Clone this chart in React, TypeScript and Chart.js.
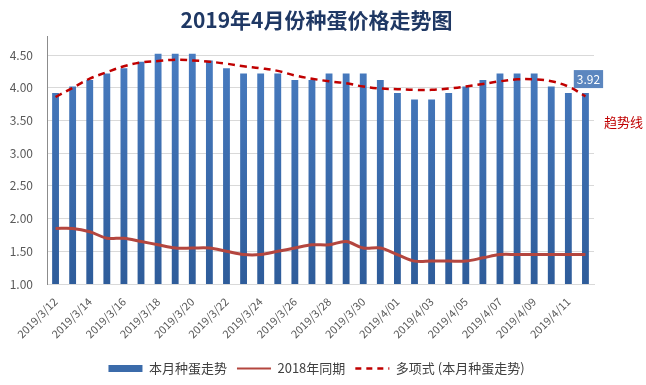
import React, { useEffect, useRef } from "react";
import { Chart, registerables } from "chart.js";

Chart.register(...registerables);

const categories = [
  "2019/3/12", "2019/3/13", "2019/3/14", "2019/3/15", "2019/3/16", "2019/3/17", "2019/3/18", "2019/3/19",
  "2019/3/20", "2019/3/21", "2019/3/22", "2019/3/23", "2019/3/24", "2019/3/25", "2019/3/26", "2019/3/27",
  "2019/3/28", "2019/3/29", "2019/3/30", "2019/3/31", "2019/4/01", "2019/4/02", "2019/4/03", "2019/4/04",
  "2019/4/05", "2019/4/06", "2019/4/07", "2019/4/08", "2019/4/09", "2019/4/10", "2019/4/11", "2019/4/12",
];

const thisMonth = [
  3.92, 4.02, 4.12, 4.22, 4.3, 4.4, 4.52, 4.52, 4.52, 4.42, 4.3, 4.22, 4.22, 4.22, 4.12, 4.12,
  4.22, 4.22, 4.22, 4.12, 3.92, 3.82, 3.82, 3.92, 4.02, 4.12, 4.22, 4.22, 4.22, 4.02, 3.92, 3.92,
];

const lastYear = [
  1.85, 1.85, 1.8, 1.7, 1.7, 1.65, 1.6, 1.55, 1.55, 1.55, 1.5, 1.45, 1.45, 1.5, 1.55, 1.6,
  1.6, 1.65, 1.55, 1.55, 1.45, 1.35, 1.35, 1.35, 1.35, 1.4, 1.45, 1.45, 1.45, 1.45, 1.45, 1.45,
];

const trend = [
  3.86, 4.0, 4.14, 4.24, 4.33, 4.39, 4.41, 4.43, 4.42, 4.4, 4.37, 4.33, 4.3, 4.26, 4.19, 4.14,
  4.1, 4.07, 4.02, 3.99, 3.98, 3.97, 3.97, 3.99, 4.02, 4.06, 4.1, 4.13, 4.13, 4.1, 4.02, 3.87,
];

const seriesNames = ["本月种蛋走势", "2018年同期", "多项式 (本月种蛋走势)"];
const titleText = "2019年4月份种蛋价格走势图";
const trendNote = "趋势线";

const FONT = '"Noto Sans CJK SC", "Noto Sans", sans-serif';
const BAR_COLOR = "#3B6BAA";
const LY_COLOR = "#B4463F";
const TREND_COLOR = "#C00000";

export default function App() {
  const ref = useRef<HTMLCanvasElement | null>(null);

  useEffect(() => {
    document.body.style.margin = "0";
    const canvas = ref.current;
    if (!canvas) return;

    const annotate = {
      id: "annotate",
      afterDatasetsDraw(chart: any) {
        const ctx = chart.ctx;
        const meta = chart.getDatasetMeta(0);
        const last = meta.data.length - 1;
        const el = meta.data[last];
        const txt = thisMonth[last].toFixed(2);
        ctx.save();
        ctx.font = `12px ${FONT}`;
        const w = ctx.measureText(txt).width + 6;
        const h = 18;
        const cx = el.x + 3;
        const bottom = el.y - 5;
        ctx.fillStyle = "#5B86BF";
        ctx.fillRect(cx - w / 2, bottom - h, w, h);
        ctx.fillStyle = "#ffffff";
        ctx.textAlign = "center";
        ctx.textBaseline = "middle";
        ctx.fillText(txt, cx, bottom - h / 2 + 0.5);

        const ys = chart.scales.y;
        ctx.font = `13px ${FONT}`;
        ctx.fillStyle = TREND_COLOR;
        ctx.textAlign = "left";
        ctx.fillText(trendNote, chart.chartArea.right + 10, ys.getPixelForValue(3.48));
        ctx.restore();
      },
    };

    const chart = new Chart(canvas, {
      type: "bar",
      data: {
        labels: categories,
        datasets: [
          {
            type: "bar",
            label: seriesNames[0],
            data: thisMonth,
            order: 2,
            yAxisID: "y",
            backgroundColor: (c: any) => {
              const ch = c.chart;
              const area = ch.chartArea;
              if (!area) return BAR_COLOR;
              const g = ch.ctx.createLinearGradient(0, area.top, 0, area.bottom);
              g.addColorStop(0, "#4A7EC3");
              g.addColorStop(1, "#2E5C9A");
              return g;
            },
            borderWidth: 0,
            barPercentage: 0.4,
            categoryPercentage: 1,
          } as any,
          {
            type: "line",
            label: seriesNames[1],
            data: lastYear,
            order: 1,
            yAxisID: "y",
            borderColor: LY_COLOR,
            backgroundColor: LY_COLOR,
            borderWidth: 3,
            pointRadius: 0,
            tension: 0.35,
            fill: false,
          } as any,
          {
            type: "line",
            label: seriesNames[2],
            data: trend,
            order: 0,
            yAxisID: "y",
            borderColor: TREND_COLOR,
            backgroundColor: TREND_COLOR,
            borderWidth: 2.5,
            borderDash: [7, 5],
            pointRadius: 0,
            tension: 0.4,
            fill: false,
          } as any,
        ],
      },
      options: {
        responsive: false,
        animation: false,
        devicePixelRatio: 1,
        layout: { padding: { left: 0, right: 13, top: 0, bottom: 0 } },
        plugins: {
          title: {
            display: true,
            text: titleText,
            color: "#1F3864",
            font: { family: FONT, size: 21, weight: "bold" },
            padding: { top: 7, bottom: 4 },
          },
          legend: {
            position: "bottom",
            labels: {
              usePointStyle: true,
              pointStyleWidth: 34,
              boxHeight: 7,
              padding: 10,
              color: "#404040",
              font: { family: FONT, size: 13 },
              sort: (a: any, b: any) => a.datasetIndex - b.datasetIndex,
              generateLabels: (ch: any) => {
                const items = (Chart.defaults.plugins.legend.labels as any).generateLabels(ch);
                items.forEach((it: any) => {
                  if (it.datasetIndex === 0) {
                    it.pointStyle = "rect";
                    it.fillStyle = BAR_COLOR;
                    it.strokeStyle = BAR_COLOR;
                    it.lineWidth = 0;
                    it.lineDash = [];
                  } else if (it.datasetIndex === 1) {
                    it.pointStyle = "line";
                    it.strokeStyle = LY_COLOR;
                    it.lineWidth = 2;
                    it.lineDash = [];
                  } else {
                    it.pointStyle = "line";
                    it.strokeStyle = TREND_COLOR;
                    it.lineWidth = 2.5;
                    it.lineDash = [6, 5];
                  }
                });
                return items;
              },
            },
          },
          tooltip: { enabled: false },
        },
        scales: {
          x: {
            grid: { display: false },
            border: { color: "#D9D9D9" },
            ticks: {
              autoSkip: false,
              maxRotation: 45,
              minRotation: 45,
              color: "#595959",
              font: { family: FONT, size: 11 },
              callback: (_v: any, i: number) => (i % 2 === 0 ? categories[i] : ""),
            },
            afterFit: (s: any) => {
              s.height = 68;
            },
          },
          y: {
            min: 1,
            max: 4.79,
            grid: { color: "#D9D9D9", drawTicks: false },
            border: { color: "#8C8C8C" },
            ticks: {
              stepSize: 0.5,
              padding: 14,
              color: "#595959",
              font: { family: FONT, size: 12 },
              callback: (v: any) => Number(v).toFixed(2),
            },
            afterBuildTicks: (s: any) => {
              s.ticks = s.ticks.filter((t: any) => Math.abs(t.value * 2 - Math.round(t.value * 2)) < 1e-6);
            },
            afterFit: (s: any) => {
              s.width = 47;
            },
          },
          spacer: {
            type: "linear",
            position: "right",
            display: true,
            grid: { display: false, drawOnChartArea: false, drawTicks: false },
            border: { display: false },
            ticks: { display: false },
            afterFit: (s: any) => {
              s.width = 39;
            },
          },
        },
      } as any,
      plugins: [annotate],
    });

    return () => chart.destroy();
  }, []);

  return (
    <div style={{ position: "fixed", left: 0, top: 0, width: 646, height: 385, background: "#ffffff" }}>
      <canvas ref={ref} width={646} height={385} style={{ width: 646, height: 385 }} />
    </div>
  );
}
